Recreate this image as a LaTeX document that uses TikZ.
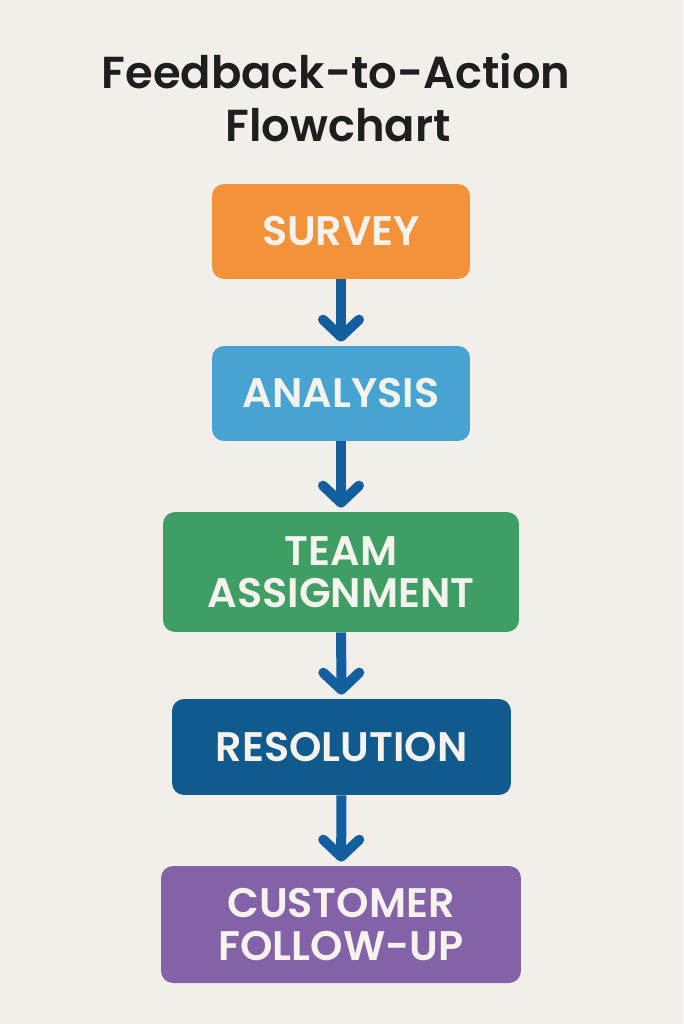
\documentclass[tikz,border=0pt]{standalone}
\usepackage{fontspec}
\setmainfont{Poppins}[UprightFont=* Medium, BoldFont=* SemiBold]
\usetikzlibrary{arrows.meta}
\definecolor{paper}{HTML}{F2EEEA}
\definecolor{ink}{HTML}{1E1E1E}
\definecolor{boxtext}{HTML}{F6F2ED}
\definecolor{arrowblue}{HTML}{135F9E}
\definecolor{surveyorange}{HTML}{F4923A}
\definecolor{analysisblue}{HTML}{47A4D1}
\definecolor{teamgreen}{HTML}{3F9E64}
\definecolor{resolutionblue}{HTML}{115A8E}
\definecolor{followpurple}{HTML}{8462A8}
\begin{document}
\begin{tikzpicture}[x=0.02cm,y=-0.02cm]
        \tikzstyle{every node}=[rounded corners=0.24cm, text=boxtext, align=center, inner sep=0pt, font=\fontsize{23.5}{24}\selectfont\bfseries];
        \tikzstyle{flow}=[draw=arrowblue, line width=0.2cm, -{Straight Barb[length=0.34cm,width=0.72cm,round]}, shorten >=0.08cm];
        %\node (name) at (x,y) [fill=colour, minimum width=w, minimum height=h] {TEXT};
        %\draw [flow] (upper.south) -- (lower.north);
        \fill[paper] (0,0) rectangle (683,1024);
        \node (title1) at (336,89) [anchor=base, text=ink, font=\fontsize{25.5}{30}\selectfont\bfseries] {Feedback-to-Action};
        \node (title2) at (338,141) [anchor=base, text=ink, font=\fontsize{25.5}{30}\selectfont\bfseries] {Flowchart};
        \node (survey) at (341,231.5) [fill=surveyorange, minimum width=5.16cm, minimum height=1.9cm] {SURVEY};
        \node (analysis) at (341,393.5) [fill=analysisblue, minimum width=5.16cm, minimum height=1.9cm] {ANALYSIS};
        \node (team) at (341,572) [fill=teamgreen, minimum width=7.12cm, minimum height=2.4cm] {TEAM\\ASSIGNMENT};
        \node (resolution) at (341.5,747) [fill=resolutionblue, minimum width=6.78cm, minimum height=1.92cm] {RESOLUTION};
        \node (followup) at (341,924.5) [fill=followpurple, minimum width=7.2cm, minimum height=2.34cm] {CUSTOMER\\FOLLOW-UP};
        \draw[flow] (survey) -- (analysis);
        \draw[flow] (analysis) -- (team);
        \draw[flow] (team) -- (resolution);
        \draw[flow] (resolution) -- (followup);
    \end{tikzpicture}
\end{document}
